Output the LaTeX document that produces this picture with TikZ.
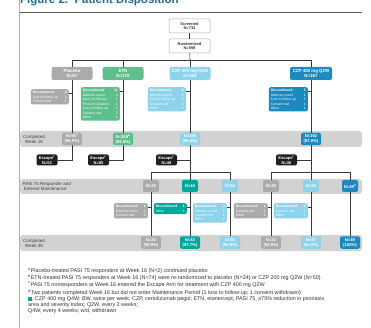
\documentclass[tikz,border=0pt]{standalone}
\usepackage{fontspec}
\setmainfont{Liberation Sans}
\usetikzlibrary{calc}
\definecolor{plc}{HTML}{ABABAB}
\definecolor{etnc}{HTML}{5DBF8C}
\definecolor{ltb}{HTML}{8ED3EC}
\definecolor{dkb}{HTML}{1B8AC0}
\definecolor{tealc}{HTML}{00A79D}
\definecolor{bandc}{HTML}{D2D2D2}
\definecolor{linec}{HTML}{3A3A3A}
\definecolor{titlec}{HTML}{1F6C9C}
\definecolor{orc}{HTML}{F6A33B}
\definecolor{fntc}{HTML}{333333}
\tikzset{
 topbox/.style={draw=plc, fill=white, rounded corners=2pt, minimum width=41pt, minimum height=14pt, inner sep=0pt, align=center, font=\fontsize{4}{4.8}\selectfont\bfseries, text=black!80, line width=0.5pt},
 armbox/.style={rounded corners=2pt, minimum width=41pt, minimum height=13pt, inner sep=0pt, align=center, font=\fontsize{4.4}{5.2}\selectfont\bfseries, text=white},
 compbox/.style={rounded corners=2pt, minimum width=20pt, minimum height=12.5pt, inner sep=0pt, align=center, font=\fontsize{4.2}{5}\selectfont\bfseries, text=white},
 escbox/.style={fill=black!88, rounded corners=2pt, minimum width=21pt, minimum height=11pt, inner sep=0pt, align=center, font=\fontsize{4}{4.7}\selectfont\bfseries, text=white},
 mbox/.style={rounded corners=2pt, minimum width=16pt, minimum height=12pt, inner sep=0pt, align=center, font=\fontsize{4.2}{5}\selectfont\bfseries, text=white},
 discbox/.style={rounded corners=2pt, anchor=north east, inner xsep=2pt, inner ysep=1.8pt, align=left, font=\fontsize{3.4}{4.3}\selectfont, text=white},
 bandlabel/.style={font=\fontsize{4.5}{5.2}\selectfont, text=black!75, inner sep=0pt},
 fnote/.style={anchor=base west, inner sep=0pt, font=\fontsize{5.4}{6}\selectfont, text=fntc},
 conn/.style={draw=linec, line width=0.6pt},
}
\begin{document}
\begin{tikzpicture}[x=1pt,y=-1pt]
\clip (0,0) rectangle (371,328);
\fill[white] (0,0) rectangle (371,328);
% bands
\fill[bandc, rounded corners=3pt] (20,131) rectangle (362,147);
\fill[bandc, rounded corners=3pt] (20,179) rectangle (362,194);
\fill[bandc, rounded corners=3pt] (20,235) rectangle (362,251);
% title and frame
\draw[orc, line width=1pt] (19,0) -- (19,328);
\node[anchor=base west, inner sep=0pt, font=\fontsize{11.5}{12}\selectfont\bfseries, text=titlec] (title) at (20,3.5) {Figure 2.\ \ Patient Disposition};
\draw[black!65, line width=0.8pt] (20,12) -- (362,12);
% band labels
\node[bandlabel, align=center] (lw16) at (34,139) {Completed\\Week 16};
\node[bandlabel, align=left, anchor=west] (lpasi) at (22.5,186) {PASI 75 Responder and\\\ Entered Maintenance};
\node[bandlabel, align=center] (lw48) at (34,243) {Completed\\Week 48};
% top boxes
\node[topbox] (scr) at (189.5,26) {Screened\\N=733};
\node[topbox] (ran) at (189.5,46) {Randomized\\N=559};
\coordinate (hub) at (190,60);
% arms
\node[armbox, fill=plc] (pla) at (72,73.5) {Placebo\\N=57};
\node[armbox, fill=etnc] (etn) at (123,73.5) {ETN\\N=170};
\node[armbox, fill=ltb] (cz2) at (190,73.5) {CZP 200 mg Q2W\\N=165};
\node[armbox, fill=dkb, minimum width=42pt] (cz4) at (311,73.5) {CZP 400 mg Q2W\\N=167};
% discontinued (induction)
\node[discbox, fill=plc, text width=34pt] (pd) at (69,89) {\textbf{Discontinued}\hfill\textbf{2}\\[0.5pt]Lost to follow up\hfill 1\\Consent wd\hfill 1};
\node[discbox, fill=etnc, text width=35pt] (ed) at (120,87) {\textbf{Discontinued}\hfill\textbf{11}\\[0.5pt]Adverse event\hfill 4\\Lack of efficacy\hfill 1\\[0.5pt]Protocol violation\hfill 1\\Lost to follow up\hfill 2\\[0.5pt]Consent wd\hfill 2\\Other\hfill 1};
\node[discbox, fill=ltb, text width=34pt] (c2d) at (186,87) {\textbf{Discontinued}\hfill\textbf{6}\\[0.5pt]Adverse event\hfill 1\\Lost to follow up\hfill 1\\[0.5pt]Consent wd\hfill 3\\Other\hfill 1};
\node[discbox, fill=dkb, text width=35pt] (c4d) at (308,87) {\textbf{Discontinued}\hfill\textbf{5}\\[0.5pt]Adverse event\hfill 1\\Lost to follow up\hfill 2\\[0.5pt]Consent wd\hfill 1\\Other\hfill 1};
% completed week 16
\node[compbox, fill=plc] (w16p) at (72,139) {N=55\textsuperscript{a}\\(96.5\%)};
\node[compbox, fill=etnc] (w16e) at (123,139) {N=159\textsuperscript{b}\\(93.5\%)};
\node[compbox, fill=ltb] (w16c2) at (190,139) {N=159\\(96.4\%)};
\node[compbox, fill=dkb] (w16c4) at (311,139) {N=162\\(97.0\%)};
% escape
\node[escbox] (escp) at (47,160) {Escape\textsuperscript{c}\\N=53};
\node[escbox] (esce) at (98.5,160) {Escape\textsuperscript{c}\\N=85};
\node[escbox] (escc2) at (166.5,160) {Escape\textsuperscript{c}\\N=49};
\node[escbox] (escc4) at (286.5,160) {Escape\textsuperscript{c}\\N=36};
% maintenance
\coordinate (b1) at (190,172);
\coordinate (b2) at (311,172);
\node[mbox, fill=plc] (m1a) at (151,186) {N=22};
\node[mbox, fill=tealc] (m1b) at (190,186) {N=44};
\node[mbox, fill=ltb] (m1c) at (230,186) {N=44};
\node[mbox, fill=plc] (m2a) at (271,186) {N=25};
\node[mbox, fill=ltb] (m2b) at (311,186) {N=50};
\node[mbox, fill=dkb] (m2c) at (350,186) {N=49\textsuperscript{d}};
% discontinued (maintenance)
\node[discbox, fill=plc, text width=30pt] (d1a) at (148,203) {\textbf{Discontinued}\hfill\textbf{2}\\[0.5pt]Adverse event\hfill 1\\Consent wd\hfill 1};
\node[discbox, fill=tealc, text width=29pt] (d1b) at (187,203) {\textbf{Discontinued}\hfill\textbf{1}\\[0.5pt]Other\hfill 1};
\node[discbox, fill=ltb, text width=30pt] (d1c) at (227,203) {\textbf{Discontinued}\hfill\textbf{4}\\[0.5pt]Adverse event\hfill 2\\Consent wd\hfill 1\\Other\hfill 1};
\node[discbox, fill=plc, text width=30pt] (d2a) at (268,203) {\textbf{Discontinued}\hfill\textbf{2}\\[0.5pt]Consent wd\hfill 1\\Other\hfill 1};
\node[discbox, fill=ltb, text width=30pt] (d2b) at (308,203) {\textbf{Discontinued}\hfill\textbf{3}\\[0.5pt]Consent wd\hfill 2\\Other\hfill 1};
% completed week 48
\node[compbox, fill=plc] (e1a) at (151,242.5) {N=20\\(90.9\%)};
\node[compbox, fill=tealc] (e1b) at (190,242.5) {N=43\\(97.7\%)};
\node[compbox, fill=ltb] (e1c) at (230,242.5) {N=40\\(90.9\%)};
\node[compbox, fill=plc] (e2a) at (271,242.5) {N=23\\(92.0\%)};
\node[compbox, fill=ltb] (e2b) at (311,242.5) {N=47\\(94.0\%)};
\node[compbox, fill=dkb] (e2c) at (350,242.5) {N=49\\(100\%)};
% connectors
\draw[conn] (scr) -- (ran);
\draw[conn] (ran) -- (hub);
\draw[conn] (pla.north) -- (pla.north |- hub) -- (cz4.north |- hub) -- (cz4.north);
\draw[conn] (etn.north) -- (etn.north |- hub);
\draw[conn] (hub) -- (cz2.north);
\draw[conn] (pla) -- (w16p);
\draw[conn] (etn) -- (w16e);
\draw[conn] (cz2) -- (w16c2);
\draw[conn] (cz4) -- (w16c4);
\foreach \d/\c in {pd/pla, ed/etn, c2d/cz2, c4d/cz4, d1a/m1a, d1b/m1b, d1c/m1c, d2a/m2a, d2b/m2b}{
  \coordinate (\d t) at ($(\d.north east)+(0,4.5)$);
  \draw[conn] (\d t) -- (\d t -| \c);
}
\draw[conn] (w16p.south) |- (escp.east);
\draw[conn] (w16e.south) |- (esce.east);
\draw[conn] (w16c2) -- (m1b);
\draw[conn] (escc2.east) -- (escc2.east -| w16c2);
\draw[conn] (w16c4) -- (m2b);
\draw[conn] (escc4.east) -- (escc4.east -| w16c4);
\draw[conn] (m1a.north) -- (m1a.north |- b1) -- (m1c.north |- b1) -- (m1c.north);
\draw[conn] (m2a.north) -- (m2a.north |- b2) -- (m2c.north |- b2) -- (m2c.north);
\draw[conn] (m1a) -- (e1a);
\draw[conn] (m1b) -- (e1b);
\draw[conn] (m1c) -- (e1c);
\draw[conn] (m2a) -- (e2a);
\draw[conn] (m2b) -- (e2b);
\draw[conn] (m2c) -- (e2c);
% footnotes
\node[fnote] (fn1) at (28,272.5) {\textsuperscript{a}Placebo-treated PASI 75 responders at Week 16 (N=2) continued placebo};
\node[fnote] (fn2) at (28,279.5) {\textsuperscript{b}ETN-treated PASI 75 responders at Week 16 (N=74) were re-randomized to placebo (N=24) or CZP 200 mg Q2W (N=50)};
\node[fnote] (fn3) at (28,286) {\textsuperscript{c}PASI 75 nonresponders at Week 16 entered the Escape Arm for treatment with CZP 400 mg Q2W};
\node[fnote] (fn4) at (28,294.5) {\textsuperscript{d}Two patients completed Week 16 but did not enter Maintenance Period (1 loss to follow-up; 1 consent withdrawn)};
\node[fnote] (fn5) at (28,300.5) {\textcolor{tealc}{\rule{3.8pt}{3.8pt}}, CZP 400 mg Q4W; BW, twice per week; CZP, certolizumab pegol; ETN, etanercept; PASI 75, ≥75\% reduction in psoriasis};
\node[fnote] (fn6) at (28,306) {area and severity index; Q2W, every 2 weeks;};
\node[fnote] (fn7) at (28,312.5) {Q4W, every 4 weeks; w/d, withdrawn};
\end{tikzpicture}
\end{document}
